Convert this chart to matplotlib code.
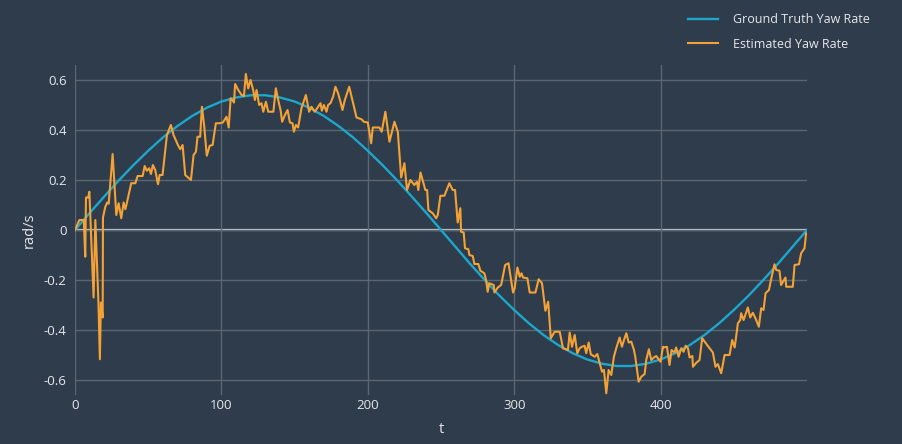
import matplotlib
matplotlib.use("Agg")
import matplotlib.pyplot as plt

# ---------------- data ----------------
t_truth = [0, 10, 20, 30, 40, 50, 60, 70, 80, 90, 100, 110, 120, 130, 140, 150, 160, 170, 180, 190,
           200, 210, 220, 230, 240, 250, 260, 270, 280, 290, 300, 310, 320, 330, 340, 350, 360, 370,
           380, 390, 400, 410, 420, 430, 440, 450, 460, 470, 480, 490, 500]
yaw_truth = [0.0, 0.068, 0.134, 0.199, 0.260, 0.317, 0.370, 0.416, 0.456, 0.489, 0.514, 0.530, 0.539,
             0.539, 0.530, 0.514, 0.489, 0.456, 0.416, 0.370, 0.317, 0.260, 0.199, 0.134, 0.068, 0.0,
             -0.068, -0.136, -0.201, -0.263, -0.320, -0.373, -0.420, -0.460, -0.493, -0.518, -0.535,
             -0.544, -0.544, -0.535, -0.518, -0.493, -0.460, -0.420, -0.373, -0.320, -0.263, -0.201,
             -0.136, -0.068, 0.0]

t_est = [0, 3, 6, 7, 7.5, 9, 9.8, 12.7, 13.9, 16, 17, 17.7, 18.9, 19.1, 20.7, 22, 23, 25.7, 28.2, 29.8,
         31.6, 33.2, 34.4, 35.5, 38.4, 41.2, 42.8, 46.2, 47.6, 49.1, 50.7, 51.9, 53.2, 54.8, 56.7, 57.8,
         59.8, 62.8, 65.5, 67.3, 70.3, 71.9, 73.5, 75.3, 79.2, 81, 82.6, 83.7, 85.5, 86.7, 88.3, 90, 92,
         94, 96.2, 99, 101, 103.5, 105, 106.3, 108.6, 109.4, 111.5, 113.8, 115.4, 116.7, 118.3, 119.9,
         121.7, 122.9, 124, 125.8, 127.4, 128.6, 130.4, 132, 135.5, 137.2, 138.8, 140.4, 141.5, 143.4,
         145.2, 146.8, 148.6, 149.5, 150.9, 152.4, 154.7, 157.7, 159.9, 161.5, 163.8, 166.1, 167.7,
         168.6, 170, 171.8, 172.9, 174.5, 176.3, 177.9, 179.7, 181.3, 182.7, 184.3, 187.3, 190, 192.3,
         195.7, 197.3, 200, 202.3, 203.4, 207.9, 209.5, 212, 214.8, 218.2, 220.5, 222.8, 225, 226.8,
         229.1, 231.8, 233.6, 234.5, 236, 239.3, 240.5, 241.4, 244.3, 246.7, 247.8, 249.6, 252.3, 255.7,
         258, 259.6, 261.4, 263.2, 263.7, 265.5, 266.4, 268.7, 269.4, 271.7, 272.8, 275.5, 276.9, 279.6,
         280.8, 281.9, 283, 286, 286.5, 288.8, 291.1, 293.8, 296.1, 299.2, 300.3, 302.2, 303.8, 305, 306,
         309, 310.6, 314.5, 316.7, 319, 321.3, 323.2, 325, 327.6, 331.1, 333.3, 336.7, 337.9, 339.5,
         341.3, 343.1, 344.7, 346.3, 348.1, 349.2, 350.9, 352.3, 355, 356.8, 358.4, 360, 361.3, 362.9,
         364.5, 366.3, 368.1, 369.7, 372, 373.6, 375, 376.6, 378.2, 380, 381.8, 382.7, 385, 386.8, 389.1,
         390.2, 392, 393.6, 395.4, 397, 398.2, 400, 401.6, 402, 404.3, 406.1, 407.5, 409.5, 410.6, 412.3,
         414.1, 415.7, 417.1, 418.7, 419.8, 421.7, 422.1, 424.4, 426.6, 428.4, 432.3, 435.7, 437.5,
         439.1, 441.4, 443.7, 447.1, 448.9, 450.6, 452.8, 454.4, 455, 456.7, 459.6, 461.2, 463, 465.3,
         467.1, 468.7, 470.3, 471.7, 474, 475.5, 477.8, 479, 481.2, 482.3, 485.3, 485.8, 490.3, 491.5,
         494.5, 496, 498.3, 499.4]
yaw_est = [0.0, 0.04, 0.04, -0.107, 0.13, 0.13, 0.153, -0.27, 0.04, -0.29, -0.517, -0.29, -0.35, 0.05,
           0.093, 0.11, 0.105, 0.304, 0.06, 0.107, 0.047, 0.11, 0.083, 0.11, 0.187, 0.187, 0.216, 0.216,
           0.256, 0.237, 0.247, 0.224, 0.26, 0.24, 0.183, 0.22, 0.22, 0.38, 0.42, 0.38, 0.34, 0.323,
           0.34, 0.22, 0.2, 0.3, 0.313, 0.373, 0.373, 0.493, 0.413, 0.297, 0.337, 0.34, 0.427, 0.427,
           0.43, 0.453, 0.41, 0.527, 0.51, 0.584, 0.56, 0.54, 0.536, 0.624, 0.566, 0.6, 0.56, 0.52,
           0.56, 0.5, 0.507, 0.473, 0.513, 0.473, 0.473, 0.567, 0.52, 0.48, 0.433, 0.46, 0.48, 0.43,
           0.427, 0.393, 0.42, 0.41, 0.487, 0.54, 0.473, 0.493, 0.473, 0.493, 0.507, 0.477, 0.5, 0.473,
           0.5, 0.507, 0.533, 0.573, 0.547, 0.513, 0.48, 0.52, 0.573, 0.507, 0.45, 0.443, 0.433, 0.43,
           0.347, 0.41, 0.41, 0.393, 0.473, 0.353, 0.433, 0.393, 0.21, 0.267, 0.16, 0.2, 0.18, 0.193,
           0.16, 0.23, 0.16, 0.16, 0.08, 0.067, 0.047, 0.06, 0.137, 0.137, 0.187, 0.16, 0.16, 0.03,
           0.087, -0.007, -0.01, -0.073, -0.077, -0.1, -0.104, -0.136, -0.136, -0.163, -0.173, -0.2,
           -0.247, -0.213, -0.22, -0.25, -0.23, -0.22, -0.14, -0.133, -0.25, -0.233, -0.15, -0.187,
           -0.173, -0.19, -0.193, -0.25, -0.25, -0.197, -0.213, -0.323, -0.287, -0.433, -0.407, -0.407,
           -0.473, -0.48, -0.41, -0.467, -0.42, -0.493, -0.473, -0.467, -0.463, -0.493, -0.45, -0.497,
           -0.507, -0.496, -0.533, -0.567, -0.56, -0.653, -0.56, -0.58, -0.507, -0.473, -0.43, -0.467,
           -0.44, -0.413, -0.45, -0.447, -0.48, -0.507, -0.607, -0.587, -0.576, -0.52, -0.477, -0.52,
           -0.51, -0.504, -0.513, -0.527, -0.467, -0.47, -0.467, -0.54, -0.48, -0.49, -0.47, -0.507,
           -0.473, -0.487, -0.463, -0.473, -0.51, -0.504, -0.547, -0.531, -0.52, -0.433, -0.464, -0.49,
           -0.547, -0.536, -0.573, -0.5, -0.5, -0.44, -0.47, -0.373, -0.36, -0.333, -0.36, -0.31, -0.35,
           -0.331, -0.36, -0.387, -0.313, -0.32, -0.253, -0.24, -0.197, -0.137, -0.16, -0.163, -0.22,
           -0.19, -0.227, -0.227, -0.14, -0.137, -0.093, -0.073, -0.013]

x_ticks = [0, 100, 200, 300, 400]
y_ticks = [-0.6, -0.4, -0.2, 0, 0.2, 0.4, 0.6]
y_tick_labels = ["-0.6", "-0.4", "-0.2", "0", "0.2", "0.4", "0.6"]
series_names = ["Ground Truth Yaw Rate", "Estimated Yaw Rate"]

# ---------------- style ----------------
BG = "#2f3c4b"
GRID = "#5b6673"
ZERO = "#c9ced3"
TXT = "#e6e8ea"
CYAN = "#1da7cc"
ORANGE = "#f4a236"
FONT = ["Open Sans", "DejaVu Sans"]
plt.rcParams["font.family"] = FONT

fig = plt.figure(figsize=(9.02, 4.44), dpi=100, facecolor=BG)
ax = fig.add_axes([75 / 902, (444 - 395) / 444, (807 - 75) / 902, (395 - 65) / 444])
ax.set_facecolor(BG)

ax.plot(t_truth, yaw_truth, color=CYAN, lw=1.7, label=series_names[0], zorder=3)
ax.plot(t_est, yaw_est, color=ORANGE, lw=1.5, label=series_names[1], zorder=4)

ax.set_xlim(0, 500)
ax.set_ylim(-0.66, 0.66)
ax.set_xticks(x_ticks)
ax.set_yticks(y_ticks)
ax.set_yticklabels(y_tick_labels)
ax.grid(True, color=GRID, lw=1.0, zorder=0)
ax.axhline(0, color=ZERO, lw=1.6, zorder=1)
for s in ax.spines.values():
    s.set_visible(False)
ax.tick_params(axis="both", length=0, colors=TXT, labelsize=9.5)
ax.tick_params(axis="y", pad=6)
ax.tick_params(axis="x", pad=3)
ax.set_xlabel("t", color=TXT, fontsize=10.5, labelpad=7)
ax.set_ylabel("rad/s", color=TXT, fontsize=10.5, labelpad=5)

leg = fig.legend(loc="upper left", bbox_to_anchor=(688 / 902, 1 - 13 / 444), frameon=False,
                 fontsize=9, labelcolor=TXT, handlelength=2.4, handletextpad=1.2,
                 labelspacing=0.95, borderpad=0, borderaxespad=0)

fig.savefig("out.png", dpi=100, facecolor=BG)
